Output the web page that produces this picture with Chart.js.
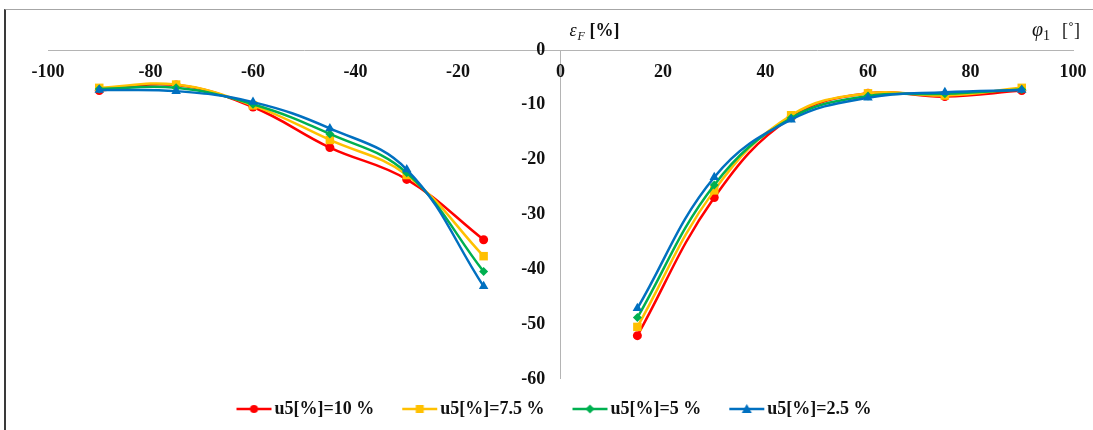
<!DOCTYPE html>
<html>
<head>
<meta charset="utf-8">
<script src="https://cdn.jsdelivr.net/npm/chart.js@4.4.0/dist/chart.umd.min.js"></script>
<style>
  body { margin: 0; background: #fff; }
  #wrap { position: relative; width: 1093px; height: 430px; }
  #frame { position: absolute; left: 4px; top: 9px; right: 0; bottom: 0; border-left: 2px solid #3a3a3a; border-top: 1px solid #a6a6a6; }
  canvas { position: absolute; left: 0; top: 0; }
</style>
</head>
<body>
<div id="wrap">
  <div id="frame"></div>
  <canvas id="strainChart" width="1093" height="430"></canvas>
</div>
<script>
/* global Chart */

// rotation angle phi1 [deg]; the 0 entry is a gap between the two branches
const angles = [-90, -75, -60, -45, -30, -15, 0, 15, 30, 45, 60, 75, 90]

// strain error eps_F [%] for each u5 value
const u5_10 = [-7.4, -6.4, -10.4, -17.8, -23.6, -34.6, null, -52.1, -26.9, -12.3, -7.9, -8.5, -7.4]
const u5_75 = [-6.9, -6.3, -10.1, -16.4, -22.8, -37.6, null, -50.5, -25.6, -11.9, -7.9, -8.3, -6.9]
const u5_5 = [-7.1, -6.9, -9.9, -15.3, -22.4, -40.4, null, -48.8, -24.6, -12.4, -8.4, -8.0, -7.2]
const u5_25 = [-7.3, -7.5, -9.5, -14.3, -21.8, -43.1, null, -47.1, -23.2, -12.7, -8.7, -7.7, -7.3]

const seriesNames = ['u5[%]=10 %', 'u5[%]=7.5 %', 'u5[%]=5 %', 'u5[%]=2.5 %']
const xTicks = { min: -100, max: 100, step: 20 }
const yTicks = { min: -60, max: 0, step: 10 }

const serif = "'Liberation Serif', 'Times New Roman', serif"

function toPoints (values) {
  return angles.map((a, i) => ({ x: a, y: values[i] }))
}

// line + marker swatch for the legend; the canvas is wider than the
// legend box so the line sits right against the label text
function swatch (color, style) {
  const c = document.createElement('canvas')
  c.width = 70
  c.height = 14
  const g = c.getContext('2d')
  const x0 = 24
  const cx = x0 + 17.5
  g.strokeStyle = color
  g.fillStyle = color
  g.lineWidth = 2.5
  g.beginPath()
  g.moveTo(x0, 7)
  g.lineTo(x0 + 35, 7)
  g.stroke()
  g.beginPath()
  if (style === 'circle') {
    g.arc(cx, 7, 4, 0, Math.PI * 2)
  } else if (style === 'rect') {
    g.rect(cx - 4, 3, 8, 8)
  } else if (style === 'rectRot') {
    g.moveTo(cx, 2.5); g.lineTo(cx + 4.5, 7); g.lineTo(cx, 11.5); g.lineTo(cx - 4.5, 7)
  } else {
    g.moveTo(cx, 2); g.lineTo(cx + 5, 11); g.lineTo(cx - 5, 11)
  }
  g.closePath()
  g.fill()
  return c
}

const styles = [
  { color: '#ff0000', point: 'circle', radius: 4.5, order: 3 },
  { color: '#ffc000', point: 'rect', radius: 6, order: 2 },
  { color: '#00b050', point: 'rectRot', radius: 4.5, order: 1 },
  { color: '#0070c0', point: 'triangle', radius: 5.5, order: 0 }
]
const seriesValues = [u5_10, u5_75, u5_5, u5_25]

const datasets = seriesValues.map((vals, i) => ({
  label: seriesNames[i],
  data: toPoints(vals),
  borderColor: styles[i].color,
  backgroundColor: styles[i].color,
  pointStyle: styles[i].point,
  pointRadius: styles[i].radius,
  pointBorderWidth: 0,
  borderWidth: 2.5,
  tension: 0.4,
  order: styles[i].order
}))

// axis names drawn next to the crossing axes
const axisNames = {
  id: 'axisNames',
  afterDraw (chart) {
    const ctx = chart.ctx
    const x0 = chart.scales.x.getPixelForValue(0)
    const right = chart.chartArea.right
    ctx.save()
    ctx.fillStyle = '#111'
    ctx.textBaseline = 'alphabetic'
    ctx.font = 'italic 18px ' + serif
    ctx.fillText('ε', x0 + 9, 36)
    ctx.font = 'italic 12px ' + serif
    ctx.fillText('F', x0 + 17, 40)
    ctx.font = 'bold 18px ' + serif
    ctx.fillText('[%]', x0 + 29, 36)

    ctx.font = 'italic 20px ' + serif
    ctx.fillText('φ', right - 41, 36)
    ctx.font = '14px ' + serif
    ctx.fillText('1', right - 30, 40)
    ctx.font = '18px ' + serif
    ctx.fillText('[˚]', right - 11, 36)
    ctx.restore()
  }
}

// the legend row sits a little left of the plot centre
const legendShift = {
  id: 'legendShift',
  afterLayout (chart) {
    chart.legend.left -= 10
    chart.legend.right -= 10
  }
}

window.addEventListener('load', function () {
  const ctx = document.getElementById('strainChart').getContext('2d')
  // eslint-disable-next-line no-unused-vars
  const strainChart = new Chart(ctx, {
    type: 'line',
    data: { datasets },
    plugins: [axisNames, legendShift],
    options: {
      responsive: false,
      animation: false,
      layout: { padding: { top: 50, left: 48, right: 20, bottom: 2 } },
      scales: {
        x: {
          type: 'linear',
          position: { y: 0 },
          min: xTicks.min,
          max: xTicks.max,
          border: { display: true, color: '#b4b4b4', width: 1 },
          grid: {
            drawTicks: false,
            color: (c) => (c.tick && c.tick.value === 0 ? '#b4b4b4' : 'rgba(0,0,0,0)')
          },
          ticks: {
            stepSize: xTicks.step,
            padding: 6,
            color: '#111',
            font: { family: serif, size: 18, weight: 'bold', lineHeight: 1.8 }
          }
        },
        y: {
          type: 'linear',
          position: { x: -3 },
          min: yTicks.min,
          max: yTicks.max,
          border: { display: false },
          grid: { display: false },
          ticks: {
            stepSize: yTicks.step,
            color: '#111',
            font: { family: serif, size: 18, weight: 'bold' }
          }
        }
      },
      plugins: {
        tooltip: { enabled: false },
        legend: {
          position: 'bottom',
          onClick: (e) => e.stopPropagation(),
          labels: {
            usePointStyle: true,
            pointStyleWidth: 36,
            boxHeight: 14,
            padding: 21,
            color: '#111',
            font: { family: serif, size: 18, weight: 'bold', lineHeight: 1 },
            sort: (a, b) => a.datasetIndex - b.datasetIndex,
            generateLabels (chart) {
              const items = Chart.defaults.plugins.legend.labels.generateLabels(chart)
              items.forEach((it) => {
                const s = styles[it.datasetIndex]
                it.pointStyle = swatch(s.color, s.point)
              })
              return items
            }
          }
        }
      }
    }
  })
})
</script>
</body>
</html>
